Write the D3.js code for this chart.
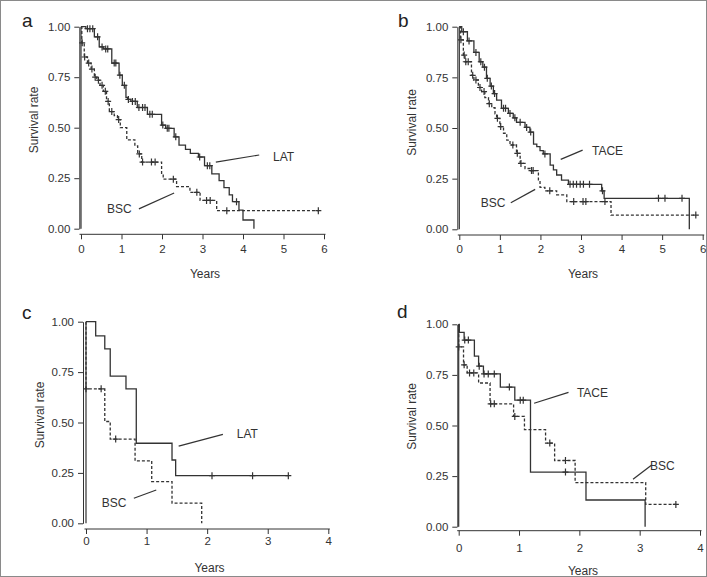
<!DOCTYPE html>
<html>
<head>
<meta charset="utf-8">
<script src="https://cdn.jsdelivr.net/npm/d3@7"></script>
<style>
  body { margin: 0; background: #fff; }
  svg { display: block; font-family: "Liberation Sans", Arial, sans-serif; }
</style>
</head>
<body>
<div id="chart"></div>
<script>
// panel a: LAT vs BSC
const aLatT = [0.12,0.33,0.45,0.55,0.76,0.94,1.02,1.11,1.15,1.23,1.39,1.64,1.99,2.09,2.30,2.42,2.58,2.70,2.90,3.05,3.23,3.41,3.53,3.66,3.74,3.90,4.00,4.27];
const aLatS = [0.99,0.95,0.90,0.89,0.82,0.76,0.71,0.65,0.64,0.63,0.60,0.566,0.513,0.497,0.455,0.414,0.393,0.373,0.355,0.312,0.271,0.238,0.203,0.167,0.134,0.092,0.043,0];
const aLatC = [0.16,0.22,0.29,0.41,0.52,0.61,0.66,0.82,0.86,0.96,1.07,1.17,1.27,1.34,1.43,1.52,1.58,1.70,1.76,2.02,2.13,2.17,2.34,2.93,3.12,3.18,3.84];
const aBscT = [0.02,0.08,0.16,0.25,0.33,0.39,0.47,0.55,0.63,0.70,0.82,0.90,0.97,1.13,1.33,1.40,1.50,1.99,2.03,2.36,2.69,2.94,3.35];
const aBscS = [0.92,0.85,0.82,0.79,0.75,0.735,0.71,0.68,0.63,0.58,0.56,0.54,0.50,0.44,0.41,0.37,0.33,0.27,0.245,0.208,0.18,0.14,0.089];
const aBscC = [0.03,0.09,0.19,0.27,0.35,0.43,0.52,0.60,0.67,0.76,0.93,1.44,1.52,1.74,1.83,2.28,2.86,3.10,3.19,3.60,5.86];

// panel b: TACE vs BSC
const bTaceT = [0.06,0.20,0.36,0.49,0.58,0.67,0.76,0.84,0.92,1.04,1.21,1.33,1.41,1.62,1.74,1.83,1.91,1.99,2.07,2.24,2.32,2.40,2.52,2.69,3.51,3.57,5.67];
const bTaceS = [0.975,0.93,0.873,0.827,0.80,0.745,0.707,0.67,0.638,0.597,0.572,0.55,0.528,0.503,0.48,0.42,0.408,0.388,0.372,0.317,0.293,0.268,0.243,0.222,0.19,0.153,0];
const bTaceC = [0.10,0.24,0.41,0.53,0.62,0.69,0.79,0.87,1.09,1.14,1.25,1.37,1.50,1.66,1.76,2.11,2.73,2.81,2.89,2.98,3.06,3.21,3.53,4.91,5.07,5.49];
const bBscT = [0.03,0.10,0.14,0.30,0.36,0.47,0.55,0.63,0.72,0.80,0.88,0.92,1.00,1.09,1.17,1.25,1.41,1.50,1.62,1.74,1.95,1.99,2.11,2.40,2.65,3.74];
const bBscS = [0.935,0.86,0.827,0.76,0.737,0.70,0.68,0.65,0.62,0.60,0.57,0.548,0.507,0.474,0.44,0.416,0.375,0.325,0.30,0.29,0.24,0.207,0.19,0.17,0.137,0.07];
const bBscC = [0.04,0.12,0.16,0.22,0.33,0.41,0.51,0.61,0.74,0.94,1.02,1.32,1.43,1.52,1.78,1.82,2.23,2.82,3.05,3.12,3.59,5.83];

// panel c: LAT vs BSC
const cLatT = [0.16,0.31,0.40,0.66,0.83,1.42,1.48];
const cLatS = [0.93,0.865,0.73,0.667,0.397,0.314,0.236];
const cLatC = [2.08,2.75,3.34];
const cBscT = [0.0,0.31,0.40,0.81,1.085,1.42,1.91];
const cBscS = [0.667,0.505,0.418,0.31,0.207,0.10,0];
const cBscC = [0.0,0.25,0.49];

// panel d: TACE vs BSC
const dTaceT = [0.01,0.09,0.26,0.33,0.41,0.69,0.93,1.19,2.11,3.09];
const dTaceS = [0.96,0.922,0.843,0.793,0.755,0.69,0.625,0.27,0.132,0];
const dTaceC = [0.10,0.16,0.34,0.42,0.49,0.59,0.84,1.02,1.07,1.77];
const dBscT = [0.0,0.08,0.14,0.33,0.52,0.91,1.09,1.44,1.59,1.93,3.10];
const dBscS = [0.888,0.80,0.76,0.71,0.607,0.545,0.48,0.413,0.327,0.218,0.11];
const dBscC = [0.0,0.09,0.18,0.25,0.53,0.59,0.93,1.51,1.77,3.6];

const yTicks = [0, 0.25, 0.5, 0.75, 1];
const yTickLabels = ["0.00", "0.25", "0.50", "0.75", "1.00"];

const W = 707, H = 577;
const ink = "#333";

const panels = [
  { letter: "a", xMax: 6, px: [81, 324], py: [228.7, 26.7], yAxisX: 79.3, xAxisY: 234.3, tickPad: 6,
    lx: [22, 26.7], titleX: 33.3, titleY: 120, yearsX: 205, yearsY: 278,
    curves: [{ t: aLatT, s: aLatS, c: aLatC, dash: null }, { t: aBscT, s: aBscS, c: aBscC, dash: "3,2" }],
    notes: [{ text: "LAT", line: [[3.33, 0.33], [4.40, 0.365]], at: [4.74, 0.335] },
            { text: "BSC", line: [[1.43, 0.098], [2.30, 0.177]], at: [0.64, 0.078] }] },
  { letter: "b", xMax: 6, px: [459.3, 702.7], py: [229.3, 26.7], yAxisX: 457.3, xAxisY: 235, tickPad: 5,
    lx: [398, 26.7], titleX: 411.7, titleY: 122.5, yearsX: 583, yearsY: 278,
    curves: [{ t: bTaceT, s: bTaceS, c: bTaceC, dash: null }, { t: bBscT, s: bBscS, c: bBscC, dash: "3,2" }],
    notes: [{ text: "TACE", line: [[2.50, 0.345], [3.04, 0.391]], at: [3.27, 0.367] },
            { text: "BSC", line: [[1.27, 0.131], [1.87, 0.197]], at: [0.53, 0.108] }] },
  { letter: "c", xMax: 4, px: [86, 328.3], py: [523.3, 321.7], yAxisX: 83, xAxisY: 529, tickPad: 3,
    lx: [22, 319.3], titleX: 40, titleY: 415, yearsX: 209.5, yearsY: 572,
    curves: [{ t: cLatT, s: cLatS, c: cLatC, dash: null }, { t: cBscT, s: cBscS, c: cBscC, dash: "3,2" }],
    notes: [{ text: "LAT", line: [[1.53, 0.383], [2.26, 0.441]], at: [2.49, 0.422] },
            { text: "BSC", line: [[0.79, 0.124], [1.16, 0.165]], at: [0.26, 0.082] }] },
  { letter: "d", xMax: 4, px: [458.7, 700], py: [526.7, 324.3], yAxisX: 457.3, xAxisY: 530.7, tickPad: 8,
    lx: [397, 318.3], titleX: 411.7, titleY: 416.5, yearsX: 583, yearsY: 575,
    curves: [{ t: dTaceT, s: dTaceS, c: dTaceC, dash: null }, { t: dBscT, s: dBscS, c: dBscC, dash: "3,2" }],
    notes: [{ text: "TACE", line: [[1.25, 0.61], [1.82, 0.664]], at: [1.96, 0.642] },
            { text: "BSC", line: [[2.89, 0.234], [3.20, 0.305]], at: [3.17, 0.28] }] }
];

const svg = d3.select("#chart").append("svg")
  .attr("width", W)
  .attr("height", H);

svg.append("rect")
  .attr("x", 0.5).attr("y", 0.5)
  .attr("width", W - 1).attr("height", H - 1)
  .attr("fill", "#fff")
  .attr("stroke", "#8a8a8a");

// survival value at time tc from the step arrays
const survAt = (t, s, tc) => {
  const k = d3.bisectRight(t, tc);
  return k === 0 ? 1 : s[k - 1];
};

panels.forEach((p) => {
  const x = d3.scaleLinear().domain([0, p.xMax]).range(p.px);
  const y = d3.scaleLinear().domain([0, 1]).range(p.py);
  const g = svg.append("g");

  // y axis
  const yAxis = g.append("g")
    .attr("transform", `translate(${p.yAxisX},0)`)
    .call(d3.axisLeft(y).tickValues(yTicks).tickFormat((d, i) => yTickLabels[i])
      .tickSize(5).tickSizeOuter(0).tickPadding(4));
  // x axis
  const xAxis = g.append("g")
    .attr("transform", `translate(0,${p.xAxisY})`)
    .call(d3.axisBottom(x).tickValues(d3.range(0, p.xMax + 1)).tickFormat(d3.format("d"))
      .tickSize(5).tickSizeOuter(0).tickPadding(p.tickPad));
  [yAxis, xAxis].forEach((ax) => {
    ax.select(".domain").attr("stroke", ink);
    ax.selectAll(".tick line").attr("stroke", ink);
    ax.selectAll(".tick text").attr("fill", ink).attr("font-size", "11.5px")
      .attr("font-family", "'Liberation Sans', Arial, sans-serif");
  });
  // stretch x-axis line a little past the end ticks
  xAxis.select(".domain").attr("d", `M${p.px[0] - 1.5},0H${p.px[1] + 1.5}`);

  // vertical at time 0
  g.append("line")
    .attr("x1", x(0)).attr("x2", x(0))
    .attr("y1", y(0)).attr("y2", y(1))
    .attr("stroke", ink).attr("stroke-width", 1.2);

  const line = d3.line().x((d) => x(d[0])).y((d) => y(d[1])).curve(d3.curveStepAfter);

  p.curves.forEach((cv) => {
    const end = Math.max(cv.t[cv.t.length - 1], d3.max(cv.c));
    const pts = [[0, 1], ...cv.t.map((ti, i) => [ti, cv.s[i]]), [end, cv.s[cv.s.length - 1]]];
    g.append("path")
      .attr("d", line(pts))
      .attr("fill", "none")
      .attr("stroke", ink)
      .attr("stroke-width", 1.3)
      .attr("stroke-dasharray", cv.dash);

    // censor marks
    g.selectAll(null)
      .data(cv.c)
      .enter()
      .append("path")
      .attr("d", (tc) => {
        const cx = x(tc), cy = y(survAt(cv.t, cv.s, tc));
        return `M${cx - 3},${cy}H${cx + 3}M${cx},${cy - 3.5}V${cy + 3.5}`;
      })
      .attr("stroke", ink)
      .attr("stroke-width", 1.2)
      .attr("fill", "none");
  });

  // annotation pointers
  p.notes.forEach((n) => {
    g.append("line")
      .attr("x1", x(n.line[0][0])).attr("y1", y(n.line[0][1]))
      .attr("x2", x(n.line[1][0])).attr("y2", y(n.line[1][1]))
      .attr("stroke", ink).attr("stroke-width", 1.2);
    g.append("text")
      .attr("x", x(n.at[0])).attr("y", y(n.at[1]))
      .attr("fill", ink)
      .attr("font-size", "12px")
      .text(n.text);
  });

  // titles
  g.append("text")
    .attr("transform", `translate(${p.titleX},${p.titleY}) rotate(-90)`)
    .attr("text-anchor", "middle")
    .attr("dy", "0.35em")
    .attr("fill", ink)
    .attr("font-size", "12px")
    .text("Survival rate");

  g.append("text")
    .attr("x", p.yearsX).attr("y", p.yearsY)
    .attr("text-anchor", "middle")
    .attr("fill", ink)
    .attr("font-size", "12px")
    .text("Years");

  g.append("text")
    .attr("x", p.lx[0]).attr("y", p.lx[1])
    .attr("fill", "#222")
    .attr("font-size", "19px")
    .text(p.letter);
});
</script>
</body>
</html>
